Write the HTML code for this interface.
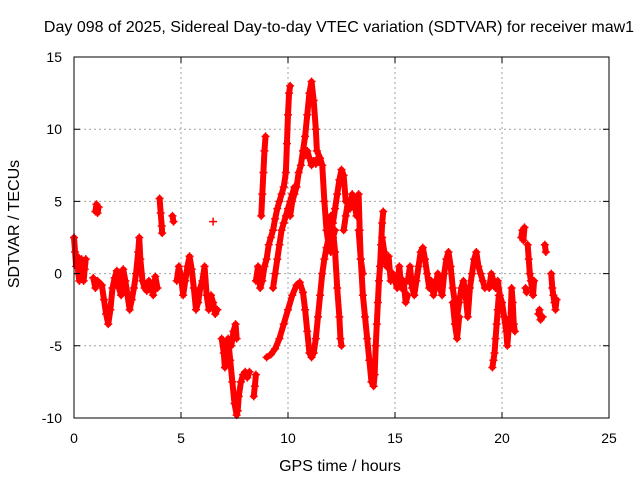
<!DOCTYPE html>
<html><head><meta charset="utf-8"><style>
body{margin:0;background:#fff}
svg{display:block;font-family:"Liberation Sans",sans-serif}
</style></head><body>
<svg id="chart" width="640" height="480" viewBox="0 0 640 480">
<rect x="0" y="0" width="640" height="480" fill="#fff"/>
<text x="339" y="32" text-anchor="middle" font-size="16">Day 098 of 2025, Sidereal Day-to-day VTEC variation (SDTVAR) for receiver maw1</text>
<g id="grid"></g>
<g id="marks"></g>
<rect x="74" y="57" width="535" height="361" fill="none" stroke="#000" stroke-width="1"/>
<g id="ticks"></g>
<text x="340" y="471" text-anchor="middle" font-size="16">GPS time / hours</text>
<text transform="translate(19,224) rotate(-90)" text-anchor="middle" font-size="16">SDTVAR / TECUs</text>
</svg>
<script>
const xTicks=[0,5,10,15,20,25];
const yTicks=[-10,-5,0,5,10,15];
const arc01=[[0,2.5],[0.05,1.5],[0.1,0.5],[0.15,1.2],[0.2,0],[0.25,-0.5],[0.3,0.5],[0.35,1],[0.4,0],[0.45,-0.5],[0.5,0.3],[0.55,1]];
const arc02=[[1.0,4.3],[1.05,4.8],[1.1,4.2],[1.15,4.6]];
const arc03=[[0.9,-0.3],[1.0,-1],[1.1,-0.5],[1.3,-0.8],[1.4,-1.8],[1.5,-2.8],[1.6,-3.5],[1.7,-2.5],[1.8,-1],[1.9,-0.3],[2.0,0.2],[2.1,-1],[2.2,-1.5],[2.3,0.3],[2.4,-0.5],[2.5,-1.5],[2.6,-2.5],[2.7,-1.8],[2.8,-1],[2.9,0],[3.0,1.5],[3.05,2.5],[3.1,1],[3.2,-0.5],[3.3,-1],[3.4,-1.2],[3.5,-0.5],[3.6,-1],[3.7,-1.5],[3.8,-0.2],[3.9,-1]];
const arc04=[[4.0,5.2],[4.05,4.2],[4.1,3.3],[4.12,2.8]];
const arc05=[[4.6,4.0],[4.65,3.6]];
const arc06=[[4.8,-0.5],[4.9,0.5],[5.0,-0.2],[5.1,-1.5],[5.2,-0.5],[5.3,0.5],[5.4,1.2],[5.5,0.3],[5.6,-1],[5.7,-2.5],[5.8,-2],[5.9,-1],[6.0,-0.5],[6.1,0.5],[6.2,-1.5],[6.3,-2.5],[6.4,-1.5],[6.5,-2],[6.6,-2.8],[6.7,-2.5]];
const arc07=[[6.5,3.6]];
const arc08=[[6.9,-4.5],[7.0,-5.5],[7.05,-6.5],[7.1,-5.5],[7.2,-4.5],[7.3,-6],[7.4,-7.5],[7.5,-9],[7.6,-9.8],[7.65,-9.5],[7.7,-8.5],[7.8,-7.5],[7.9,-7],[8.0,-6.8],[8.1,-7.2],[8.2,-6.8]];
const arc09=[[7.35,-5],[7.45,-4],[7.55,-3.5],[7.6,-4.5]];
const arc10=[[8.4,-8.5],[8.45,-7.8],[8.5,-7]];
const arc11=[[8.5,-0.5],[8.6,0.5],[8.7,-1],[8.8,-0.5],[8.9,0.5],[9.0,1],[9.1,2],[9.2,2.5],[9.3,3],[9.4,3.8],[9.5,4.5],[9.6,5],[9.7,5.5],[9.8,6],[9.9,7],[9.95,9],[10.0,11],[10.05,12.5],[10.1,13]];
const arc12=[[8.75,4],[8.8,5.5],[8.85,7],[8.9,8.5],[8.95,9.5]];
const arc13=[[9.0,-5.8],[9.2,-5.6],[9.4,-5.2],[9.6,-4.5],[9.8,-3.5],[10.0,-2.5],[10.2,-1.5],[10.4,-0.8],[10.55,-0.6],[10.7,-1.3],[10.8,-2.5],[10.9,-4],[11.0,-5.5],[11.1,-5.8],[11.2,-5.5],[11.3,-4.5],[11.4,-3],[11.5,-1.5],[11.6,0],[11.7,1],[11.8,1.8],[11.9,2.5],[12.0,3],[12.1,3.5],[12.2,4.5],[12.3,5.5],[12.4,6.5],[12.5,7.2],[12.6,6.8],[12.7,5]];
const arc14=[[10.1,4],[10.2,5],[10.3,5.5],[10.4,6],[10.5,7],[10.6,7.5],[10.7,8.5],[10.8,9.5],[10.9,11],[11.0,12.5],[11.1,13.3],[11.2,12],[11.3,10],[11.35,8.5],[11.5,8],[11.6,7.5],[11.7,5],[11.8,3],[11.9,2],[12.0,1.5],[12.1,2.5],[12.2,3]];
const arc15=[[10.8,8.2],[10.9,8.5],[11.0,8],[11.1,7.5],[11.2,7.8],[11.3,7.6],[11.4,8]];
const arc16=[[9.3,-1],[9.4,0],[9.5,1],[9.6,2],[9.7,3],[9.8,3.5],[9.9,4],[10.0,4.5],[10.1,5],[10.2,5.5],[10.3,6]];
const arc17=[[12.0,4],[12.1,3],[12.2,1.5],[12.3,-1],[12.4,-3],[12.45,-4.5],[12.5,-5]];
const arc18=[[12.6,3],[12.7,4],[12.8,5],[12.9,4.5],[13.0,5.5],[13.1,5],[13.2,4],[13.3,5.5],[13.35,3],[13.4,1],[13.5,0]];
const arc19=[[13.3,3],[13.4,1],[13.5,-1.5],[13.6,-3],[13.7,-4.5],[13.8,-6],[13.9,-7.5],[14.0,-7.8],[14.05,-7],[14.1,-5],[14.15,-3.5],[14.2,-2],[14.25,-0.5],[14.3,0.5],[14.35,2],[14.4,3.5],[14.45,4.3]];
const arc20=[[14.4,2.5],[14.5,1.5],[14.6,0.5],[14.7,1.2],[14.8,-0.5],[14.9,0],[15.0,-0.5],[15.1,-1],[15.2,0.5],[15.3,-1],[15.4,-0.5],[15.5,-2],[15.6,-1.5]];
const arc21=[[15.6,-0.5],[15.7,0.5],[15.8,-1],[15.9,-1.5],[16.0,-0.5],[16.1,0.5],[16.2,1.5],[16.3,1.8],[16.4,1],[16.5,0],[16.6,-1],[16.7,-0.5],[16.8,-1.5],[16.9,-0.8],[17.0,0],[17.1,-1],[17.2,-1.5],[17.3,0],[17.4,1],[17.5,1.5],[17.6,0.5],[17.7,-1],[17.8,-2],[17.9,-3],[18.0,-2],[18.1,-1],[18.2,-0.5],[18.3,-1.5],[18.4,-3],[18.5,-1],[18.6,0],[18.7,1],[18.8,1.5],[18.9,0.5],[19.0,0],[19.1,-0.5],[19.2,-1]];
const arc22=[[17.7,-2],[17.8,-3.5],[17.9,-4.5],[18.0,-3]];
const arc23=[[19.55,-6.5],[19.6,-6],[19.65,-5.5],[19.7,-4.5],[19.75,-3.5],[19.8,-2.5],[19.85,-1.5]];
const arc24=[[19.4,-1],[19.5,0],[19.6,-0.5],[19.7,-1],[19.8,-0.5],[19.9,-1.5],[20.0,-2],[20.1,-3],[20.2,-4],[20.25,-5],[20.3,-4],[20.4,-3],[20.45,-1],[20.5,-2],[20.55,-3.5],[20.6,-4]];
const arc25=[[20.9,2.5],[20.95,3],[21.0,2.3],[21.05,3.2]];
const arc26=[[21.2,2],[21.25,1],[21.3,0],[21.35,-0.5],[21.4,-1],[21.45,-1.5],[21.5,-0.5]];
const arc27=[[21.1,-1],[21.15,-1.3]];
const arc28=[[21.7,-2.8],[21.75,-2.5],[21.8,-3.2],[21.9,-3]];
const arc29=[[22.0,2],[22.05,1.5]];
const arc30=[[22.3,0],[22.35,-1],[22.4,-1.5],[22.45,-2],[22.5,-2.5],[22.55,-1.8]];
const arcs=[arc01,arc02,arc03,arc04,arc05,arc06,arc07,arc08,arc09,arc10,arc11,arc12,arc13,arc14,arc15,arc16,arc17,arc18,arc19,arc20,arc21,arc22,arc23,arc24,arc25,arc26,arc27,arc28,arc29,arc30];

const X0=74,X1=609,Y0=418,Y1=57;
function xs(t){return X0+(t-0)/(25-0)*(X1-X0);}
function ys(v){return Y0-(v-(-10))/(15-(-10))*(Y0-Y1);}
const NS="http://www.w3.org/2000/svg";
function mk(tag,attrs,parent){const e=document.createElementNS(NS,tag);for(const k in attrs)e.setAttribute(k,attrs[k]);parent.appendChild(e);return e;}
const grid=document.getElementById('grid'),ticks=document.getElementById('ticks'),marks=document.getElementById('marks');
xTicks.forEach(t=>{
  const x=xs(t);
  if(t>0&&t<25){const g=mk('line',{x1:x,y1:Y1,x2:x,y2:Y0,stroke:'#a0a0a0','stroke-dasharray':'2,3'},grid);
  
  }
  const tk=mk('path',{d:`M${x},${Y0}v-6M${x},${Y1}v6`,stroke:'#000'},ticks);
  
  
  const lb=mk('text',{x:x,y:443,'text-anchor':'middle','font-size':'14'},ticks);lb.textContent=t;
  
  
});
yTicks.forEach(v=>{
  const y=ys(v);
  if(v>-10&&v<15){const g=mk('line',{x1:X0,y1:y,x2:X1,y2:y,stroke:'#a0a0a0','stroke-dasharray':'2,3'},grid);
  
  }
  const tk=mk('path',{d:`M${X0},${y}h6M${X1},${y}h-6`,stroke:'#000'},ticks);
  
  
  const lb=mk('text',{x:62,y:y+5,'text-anchor':'end','font-size':'14'},ticks);lb.textContent=v;
  
  
});
arcs.forEach(arc=>{
  if(arc.length>1){
    const pl=mk('polyline',{points:arc.map(p=>xs(p[0])+','+ys(p[1])).join(' '),fill:'none',stroke:'#f00','stroke-width':'6','stroke-linejoin':'round','stroke-linecap':'round'},marks);
    
    
  }
  arc.forEach(p=>{
    const x=xs(p[0]),y=ys(p[1]);
    const m=mk('path',{d:`M${x-4},${y}h8M${x},${y-4}v8`,stroke:'#f00','stroke-width':'1.5'},marks);
    
    
  });
});
</script>
</body></html>
